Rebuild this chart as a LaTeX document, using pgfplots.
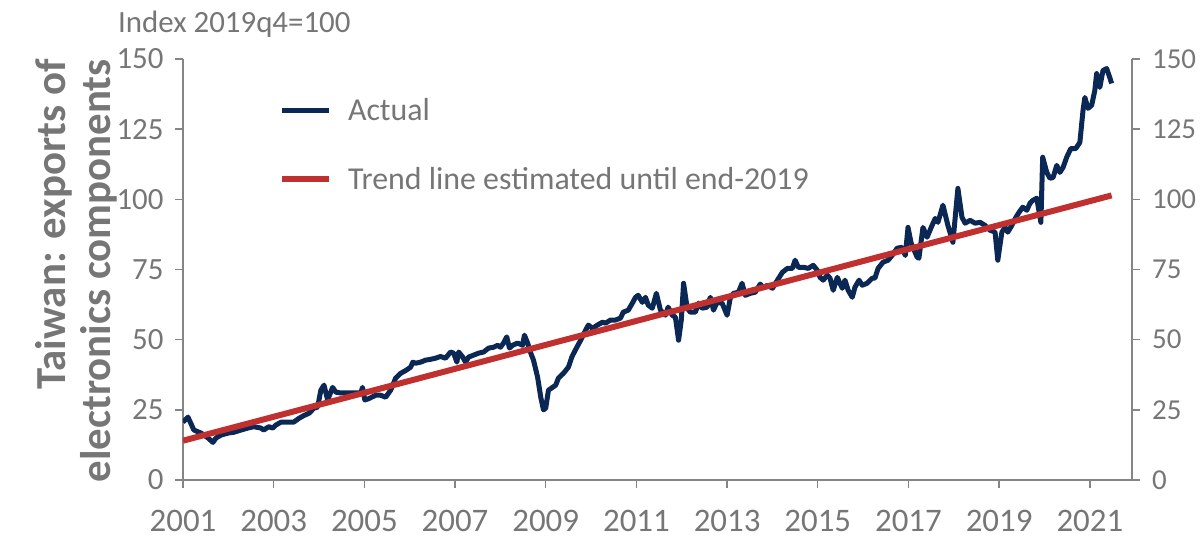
\documentclass[border=0pt]{standalone}
\usepackage{pgfplots}
\pgfplotsset{compat=1.18}
\usepackage{fontspec}
\setmainfont{Carlito}
\definecolor{navy}{HTML}{0A2853}
\definecolor{trendred}{HTML}{C0302F}
\definecolor{txtgray}{HTML}{767676}
\definecolor{axgray}{HTML}{858585}

\begin{document}
\begin{tikzpicture}
\pgfplotsset{
  base/.style={
    scale only axis, width=949bp, height=421bp,
    at={(0bp,0bp)}, anchor=south west,
    xmin=2001, xmax=2021.93, ymin=0, ymax=150,
    axis line style={draw=axgray, line width=1.6bp, -},
    tick style={draw=axgray, line width=1.4bp},
    major tick length=8bp, tick align=outside,
    ytick={0,25,50,75,100,125,150},
    yticklabels={0,25,50,75,100,125,150},
    yticklabel style={font=\fontsize{31}{36}\selectfont, text=txtgray},
    xticklabel style={font=\fontsize{33}{38}\selectfont, text=txtgray},
  }
}
% invisible path fixes the page to the 1201 x 539 frame
\path[use as bounding box] (-183bp,-59bp) rectangle (1018bp,480bp);

\begin{axis}[base,
  axis x line*=bottom, axis y line*=left,
  xtick={2001,2003,2005,2007,2009,2011,2013,2015,2017,2019,2021},
  xticklabels={2001,2003,2005,2007,2009,2011,2013,2015,2017,2019,2021},
  xticklabel style={yshift=-19bp},
  yticklabel style={xshift=-8bp},
  ylabel={Taiwan: exports of\\electronics components},
  every axis y label/.style={at={(axis description cs:-0.1128,1.0)}, rotate=90,
    anchor=east, align=right, inner sep=0pt,
    font=\fontsize{43}{45}\selectfont\bfseries, text=txtgray},
  legend style={draw=none, fill=none, at={(axis description cs:0.101,0.907)},
    anchor=north west, inner sep=0pt, row sep=45bp, column sep=16bp,
    nodes={inner sep=0pt}, font=\fontsize{32}{38}\selectfont, text=txtgray},
  legend cell align=left,
  legend image code/.code={\draw[#1] (0bp,0bp) -- (47bp,0bp);},
]
\addplot[navy, line width=5bp, line join=round] coordinates {
(2001.00,20.6)(2001.11,22.4)(2001.24,17.8)(2001.40,16.7)(2001.55,15.0)(2001.66,13.4)
(2001.73,15.0)(2001.84,16.0)(2001.99,16.7)(2002.12,17.0)(2002.28,17.8)(2002.43,18.5)
(2002.56,19.0)(2002.72,18.5)(2002.78,17.8)(2002.89,19.0)(2002.98,18.5)(2003.05,19.6)
(2003.16,20.6)(2003.31,20.6)(2003.44,20.6)(2003.56,22.0)(2003.67,23.0)(2003.78,23.8)
(2003.89,25.6)(2003.97,26.0)(2004.04,32.0)(2004.11,33.8)(2004.19,28.5)(2004.30,33.0)
(2004.37,31.3)(2004.48,31.0)(2004.63,31.0)(2004.77,31.0)(2004.92,31.0)(2004.96,33.0)
(2005.01,28.5)(2005.10,29.0)(2005.25,30.2)(2005.36,30.2)(2005.47,29.5)(2005.58,32.0)
(2005.69,36.3)(2005.80,38.0)(2005.91,39.0)(2006.02,40.2)(2006.07,42.0)(2006.13,41.6)
(2006.24,42.0)(2006.35,42.7)(2006.46,43.0)(2006.57,43.4)(2006.68,44.0)(2006.79,43.4)
(2006.90,45.6)(2006.97,45.2)(2007.04,42.0)(2007.08,45.6)(2007.17,43.8)(2007.23,42.0)
(2007.30,43.8)(2007.41,44.5)(2007.52,45.2)(2007.63,45.6)(2007.74,47.0)(2007.85,47.3)
(2007.94,48.0)(2008.00,47.3)(2008.07,48.8)(2008.14,51.0)(2008.20,47.0)(2008.27,48.0)
(2008.38,48.8)(2008.49,48.0)(2008.53,51.6)(2008.60,48.8)(2008.67,45.2)(2008.73,42.7)
(2008.82,36.7)(2008.89,29.5)(2008.95,25.0)(2009.00,25.6)(2009.06,32.0)(2009.15,33.0)
(2009.22,33.8)(2009.28,36.3)(2009.39,38.0)(2009.50,40.2)(2009.58,44.0)(2009.66,46.5)
(2009.77,49.8)(2009.88,53.4)(2009.94,55.2)(2010.03,54.0)(2010.14,55.2)(2010.25,56.2)
(2010.32,55.9)(2010.43,57.0)(2010.54,57.0)(2010.65,57.7)(2010.71,59.8)(2010.82,60.5)
(2010.91,63.0)(2010.98,65.1)(2011.04,65.8)(2011.13,63.3)(2011.20,65.1)(2011.26,62.3)
(2011.35,61.2)(2011.44,66.5)(2011.53,60.5)(2011.64,58.7)(2011.70,61.6)(2011.79,58.7)
(2011.86,58.0)(2011.93,49.8)(2011.99,57.0)(2012.04,70.1)(2012.12,61.2)(2012.19,59.8)
(2012.30,59.8)(2012.37,63.0)(2012.45,61.2)(2012.56,61.6)(2012.63,65.1)(2012.70,60.5)
(2012.78,63.3)(2012.89,63.0)(2013.00,58.7)(2013.07,64.8)(2013.14,66.5)(2013.25,66.9)
(2013.33,70.1)(2013.40,65.8)(2013.51,66.5)(2013.62,66.9)(2013.73,69.8)(2013.80,68.5)
(2013.89,69.4)(2014.00,68.3)(2014.11,71.2)(2014.22,74.0)(2014.33,75.4)(2014.44,75.4)
(2014.50,78.3)(2014.57,75.8)(2014.68,75.8)(2014.79,75.4)(2014.90,76.5)(2014.99,74.7)
(2015.05,72.2)(2015.12,71.2)(2015.21,73.0)(2015.27,71.9)(2015.34,67.6)(2015.43,72.2)
(2015.54,68.3)(2015.60,71.2)(2015.67,67.6)(2015.76,65.1)(2015.82,68.7)(2015.91,71.2)
(2015.98,69.4)(2016.09,70.1)(2016.20,71.9)(2016.26,71.9)(2016.33,75.4)(2016.44,77.6)
(2016.55,78.3)(2016.64,80.0)(2016.75,82.6)(2016.86,82.9)(2016.93,80.0)(2016.99,90.0)
(2017.06,84.3)(2017.10,82.9)(2017.19,79.4)(2017.23,79.0)(2017.32,90.0)(2017.41,86.5)
(2017.52,90.7)(2017.59,93.2)(2017.65,91.8)(2017.76,97.9)(2017.87,90.7)(2017.98,84.7)
(2018.09,103.9)(2018.18,93.6)(2018.25,91.5)(2018.36,92.5)(2018.47,91.5)(2018.58,91.8)
(2018.69,90.7)(2018.80,89.0)(2018.91,88.3)(2018.97,78.3)(2019.06,88.3)(2019.13,90.0)
(2019.19,88.3)(2019.28,90.7)(2019.37,93.6)(2019.44,95.4)(2019.52,97.2)(2019.61,96.1)
(2019.68,98.6)(2019.74,99.6)(2019.83,100.4)(2019.92,91.8)(2019.96,115.0)(2020.05,109.6)
(2020.12,107.5)(2020.19,107.8)(2020.27,112.1)(2020.34,109.6)(2020.41,111.4)(2020.49,115.0)
(2020.58,118.1)(2020.69,118.1)(2020.78,120.3)(2020.85,131.7)(2020.89,136.3)(2020.96,132.4)
(2021.04,133.5)(2021.11,138.8)(2021.15,144.8)(2021.22,139.9)(2021.29,145.9)(2021.37,146.6)
(2021.44,143.4)(2021.48,141.3)
};
\addlegendentry{Actual}
\addplot[trendred, line width=6bp] coordinates {(2001.00,14.0)(2021.48,101.4)};
\addlegendentry{Trend line estimated until end-2019}
\end{axis}

\begin{axis}[base,
  axis x line=none, axis y line*=right,
  yticklabel style={inner sep=0pt, xshift=12bp, font=\fontsize{29}{34}\selectfont},
]
\end{axis}

\node[anchor=base west, inner sep=0pt, font=\fontsize{31}{36}\selectfont, text=txtgray]
  at (-65bp,447bp) {Index 2019q4=100};
\end{tikzpicture}
\end{document}
